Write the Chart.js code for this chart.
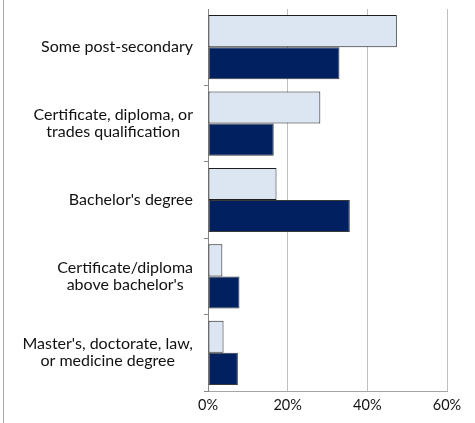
<!DOCTYPE html>
<html>
<head>
<meta charset="utf-8">
<script src="https://cdn.jsdelivr.net/npm/chart.js@4/dist/chart.umd.min.js"></script>
<style>
  html, body { margin: 0; padding: 0; background: #fff; }
  #wrap { position: relative; width: 475px; height: 423px; }
  #edge { position: absolute; left: 3px; top: 0; width: 1px; height: 423px; background: #A6A6A6; }
  canvas { position: absolute; left: 0; top: 0; }
</style>
</head>
<body>
<div id="wrap">
  <canvas id="c" width="475" height="423"></canvas>
  <div id="edge"></div>
</div>
<script>
const categories = [
  ["Some post-secondary"],
  ["Certificate, diploma, or", "trades qualification"],
  ["Bachelor's degree"],
  ["Certificate/diploma", "above bachelor's"],
  ["Master's, doctorate, law,", "or medicine degree"]
];
const seriesLight = [47.4, 28.2, 17.2, 3.6, 3.9];
const seriesDark = [33.0, 16.5, 35.6, 7.9, 7.5];
const xTicks = [0, 20, 40, 60];

const FONT = 'Lato, "Open Sans", sans-serif';

const catLabels = {
  id: 'catLabels',
  afterDraw(chart) {
    const ys = chart.scales.y;
    const ctx = chart.ctx;
    ctx.save();
    ctx.font = '16px ' + FONT;
    ctx.fillStyle = '#111';
    ctx.textBaseline = 'middle';
    ctx.textAlign = 'center';
    const lh = 17;
    categories.forEach((lines, i) => {
      const w = Math.max(...lines.map(l => ctx.measureText(l).width));
      const right = ys.right - 15;
      const cx = right - w / 2;
      const cy = ys.getPixelForValue(i);
      lines.forEach((l, j) => {
        ctx.fillText(l, cx, cy + (j - (lines.length - 1) / 2) * lh);
      });
    });
    ctx.restore();
  }
};

new Chart(document.getElementById('c'), {
  type: 'bar',
  data: {
    labels: categories,
    datasets: [
      { data: seriesLight, backgroundColor: '#DCE6F2', borderColor: '#1E1E1E', borderWidth: 1, borderSkipped: false },
      { data: seriesDark, backgroundColor: '#002060', borderColor: '#3A3A3A', borderWidth: 1, borderSkipped: false }
    ]
  },
  options: {
    indexAxis: 'y',
    responsive: false,
    animation: false,
    devicePixelRatio: 1,
    layout: { padding: { left: 0, top: 9, right: 28, bottom: 0 } },
    categoryPercentage: 0.84,
    barPercentage: 1.0,
    plugins: { legend: { display: false }, tooltip: { enabled: false } },
    scales: {
      x: {
        min: 0, max: 60,
        afterBuildTicks(scale) { scale.ticks = xTicks.map(v => ({ value: v })); },
        afterFit(scale) { scale.height = 32; },
        ticks: {
          callback: v => v + '%',
          color: '#111',
          font: { family: FONT, size: 14.5 },
          padding: 6,
          maxRotation: 0
        },
        grid: { color: '#BFBFBF', lineWidth: 1, drawTicks: false },
        border: { color: '#A6A6A6', width: 1 }
      },
      y: {
        afterFit(scale) { scale.width = 208; },
        ticks: { display: false },
        grid: {
          offset: true,
          drawOnChartArea: false,
          drawTicks: true,
          tickLength: 4,
          color: ctx => (ctx.index === 0 || ctx.index === categories.length) ? 'rgba(0,0,0,0)' : '#868686'
        },
        border: { color: '#868686', width: 1 }
      }
    }
  },
  plugins: [catLabels]
});
</script>
</body>
</html>
